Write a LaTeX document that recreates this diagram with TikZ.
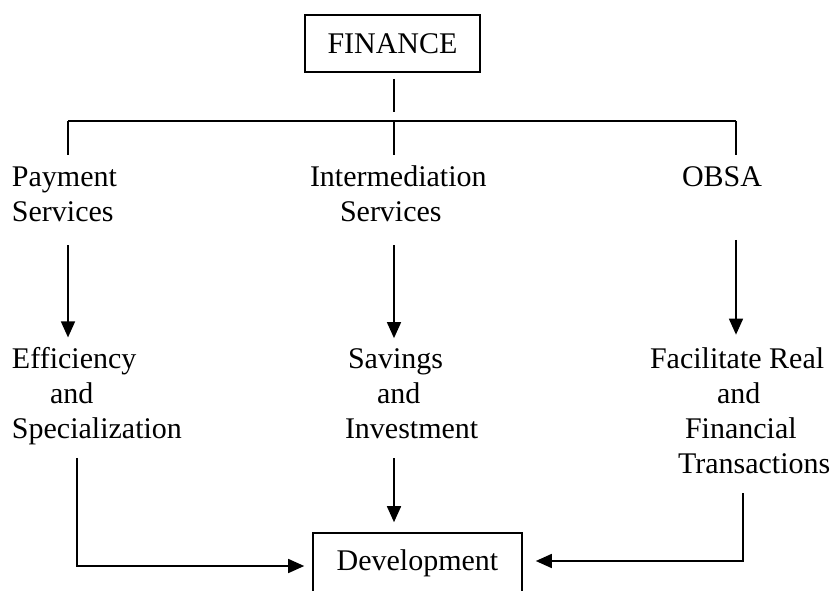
\documentclass[tikz,border=0pt]{standalone}
\usepackage{fontspec}
\setmainfont{Liberation Serif}
\usetikzlibrary{arrows.meta}
\begin{document}
\begin{tikzpicture}[x=0.75pt,y=-0.75pt,
  txt/.style={inner sep=0pt,outer sep=0pt,align=left,font={\fontsize{22.5}{26.25}\selectfont}},
  boxnode/.style={draw,line width=1.2pt,inner sep=0pt,font={\fontsize{22.5}{26.25}\selectfont}},
  link/.style={line width=1.2pt},
  arr/.style={line width=1.2pt,-{Triangle[length=12pt,width=10.5pt]}}]
\useasboundingbox (0,0) rectangle (830,591);
\clip (0,0) rectangle (830,591);
% columns
\coordinate (colA) at (68,0);
\coordinate (colB) at (77,0);
\coordinate (colM) at (394,0);
\coordinate (colR) at (736,0);
\coordinate (colR2) at (743,0);
\coordinate (barL) at (68,121);
\coordinate (barM) at (394,121);
\coordinate (barR) at (736,121);
% nodes
\node[boxnode,minimum width=131.25pt,minimum height=42.75pt] (fin) at (392.5,43.5) {FINANCE};
\node[txt,anchor=base west] (pay) at (12,222) {Payment\\Services};
\node[txt,anchor=base west] (int) at (310,222) {Intermediation\\\hspace*{22.5pt}Services};
\node[txt,anchor=base] (obsa) at (722,187) {OBSA};
\node[txt,anchor=base west] (eff) at (12,438) {Efficiency\\\hspace*{28.5pt}and\\Specialization};
\node[txt,anchor=base west] (sav) at (345,438) {\hspace*{2.25pt}Savings\\\hspace*{24pt}and\\Investment};
\node[txt,anchor=base west] (fac) at (650,473) {Facilitate Real\\\hspace*{50.25pt}and\\\hspace*{26.25pt}Financial\\\hspace*{21pt}Transactions};
\node[boxnode,minimum width=156.75pt,minimum height=45pt] (dev) at (417.5,563) {Development};
% connectors
\draw[link,shorten <=4.5pt,shorten >=6.75pt] (fin.south -| colM) -- (barM);
\draw[link] (barL) -- (barR);
\draw[link,shorten >=9pt] (barL) -- (pay.north -| barL);
\draw[link,shorten >=8.6pt] (barM) -- (int.north -| barM);
\draw[link,shorten >=9pt] (barR) -- (obsa.north -| barR);
\draw[arr,shorten <=17.25pt,shorten >=7.1pt] (pay.south -| colA) -- (eff.north -| colA);
\draw[arr,shorten <=17.25pt,shorten >=7.5pt] (int.south -| colM) -- (sav.north -| colM);
\draw[arr,shorten <=39.5pt,shorten >=9.4pt] (obsa.south -| colR) -- (fac.north -| colR);
\draw[arr,shorten <=15pt,shorten >=7.5pt] (sav.south -| colM) -- (dev.north -| colM);
\draw[arr,shorten <=10.1pt,shorten >=6pt] (eff.south -| colB) |- ([yshift=-2.25pt]dev.west);
\draw[arr,shorten <=15pt,shorten >=9.75pt] (fac.south -| colR2) |- ([yshift=1.5pt]dev.east);
\end{tikzpicture}
\end{document}
